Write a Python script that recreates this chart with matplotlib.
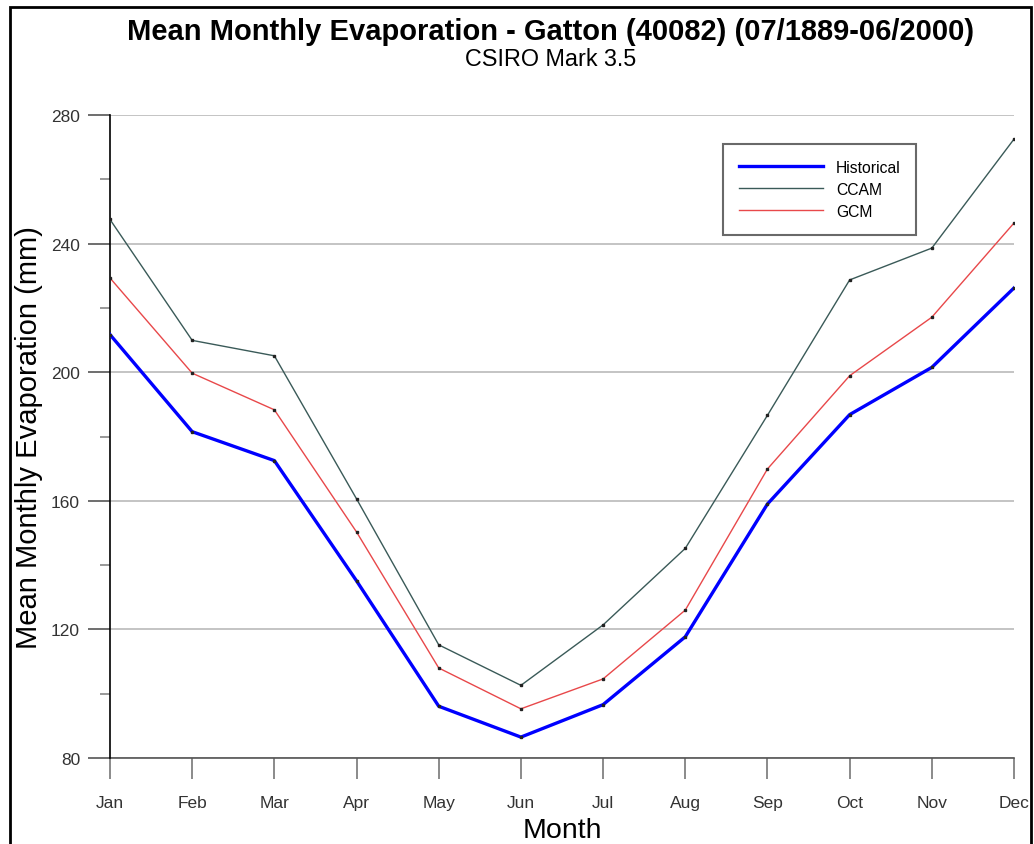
import matplotlib.pyplot as plt
from matplotlib.patches import Rectangle
from matplotlib.ticker import MultipleLocator

plt.rcParams['font.family'] = ['Liberation Sans', 'DejaVu Sans']

# data
months = ["Jan", "Feb", "Mar", "Apr", "May", "Jun",
          "Jul", "Aug", "Sep", "Oct", "Nov", "Dec"]
historical = [211.7, 181.5, 172.5, 135.1, 96.1, 86.5,
              96.6, 117.7, 159.0, 186.8, 201.5, 226.2]
ccam = [247.5, 209.9, 205.1, 160.6, 115.2, 102.6,
        121.4, 145.2, 186.6, 228.7, 238.6, 272.5]
gcm = [229.3, 199.7, 188.3, 150.3, 108.0, 95.3,
       104.6, 126.0, 169.9, 198.9, 217.1, 246.4]

W, H = 1034, 845
PX = 72 / 100  # points per pixel
fig = plt.figure(figsize=(W / 100, H / 100), dpi=100)
ax = fig.add_axes([110 / W, 86 / H, (1014 - 110) / W, (759 - 116) / H])

x = list(range(len(months)))

#lines
ax.plot(x, ccam, color="#3a5a58", lw=1.0, label="CCAM", zorder=3)
ax.plot(x, gcm, color="#e8484a", lw=1.0, label="GCM", zorder=3)
ax.plot(x, historical, color="#0000ff", lw=2.4, label="Historical", zorder=4)
for ys in (ccam, gcm, historical):
    ax.plot(x, ys, ls="none", marker="s", ms=1.6, color="#222222", zorder=5)

#axes
ax.set_xlim(0, 11)
ax.set_ylim(80, 280)
ax.set_xticks(x)
ax.set_xticklabels(months)
ax.yaxis.set_major_locator(MultipleLocator(40))
ax.yaxis.set_minor_locator(MultipleLocator(20))
ax.grid(axis="y", which="major", color="#c4c4c4", lw=1.4, zorder=1)
ax.set_axisbelow(True)

for s in ("top", "right"):
    ax.spines[s].set_visible(False)
ax.spines["left"].set_color("black")
ax.spines["left"].set_linewidth(1.2)
ax.spines["bottom"].set_color("#555555")
ax.spines["bottom"].set_linewidth(1.2)
ax.spines["bottom"].set_zorder(2)

ax.tick_params(axis="x", direction="out", length=21 * PX, width=1.2,
               color="#777777", labelsize=12.5, labelcolor="#333333", pad=16 * PX)
ax.tick_params(axis="y", which="major", direction="out", length=22 * PX, width=1.2,
               color="#555555", labelsize=12.5, labelcolor="#333333", pad=8 * PX)
ax.tick_params(axis="y", which="minor", direction="out", length=10 * PX, width=1.2,
               color="#888888")

ax.set_xlabel("Month", fontsize=20.5, labelpad=5)
ax.set_ylabel("Mean Monthly Evaporation (mm)", fontsize=21, labelpad=6)

#legend
handles, labels = ax.get_legend_handles_labels()
order = [2, 0, 1]
leg = ax.legend([handles[i] for i in order], [labels[i] for i in order],
                loc="upper left", bbox_to_anchor=((723 - 110) / (1014 - 110), 1 - (145 - 116) / (759 - 116)),
                fontsize=11.3, frameon=True, fancybox=False, handlelength=5.4,
                borderpad=1.0, labelspacing=0.45, handletextpad=0.8, borderaxespad=0)
leg.get_frame().set_edgecolor("#444444")
leg.get_frame().set_linewidth(1.5)

#titles
fig.text(551 / W, 1 - 32 / H, "Mean Monthly Evaporation - Gatton (40082) (07/1889-06/2000)",
         ha="center", va="center", fontsize=21, fontweight="bold")
fig.text(551 / W, 1 - 60 / H, "CSIRO Mark 3.5", ha="center", va="center", fontsize=16.8)

#screenshot border
fig.patches.append(Rectangle((10 / W, -0.05), (1031 - 10) / W, 1 - 8 / H + 0.05,
                             transform=fig.transFigure, fill=False,
                             edgecolor="black", lw=2))

fig.savefig("out.png", dpi=100)
